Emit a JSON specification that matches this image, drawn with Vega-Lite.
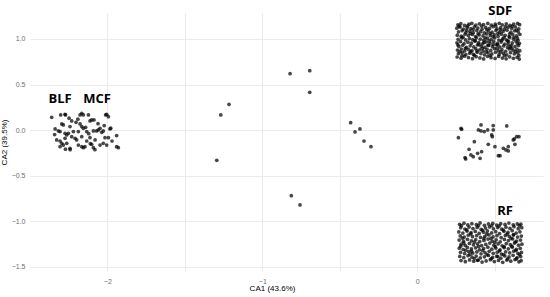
{
 "$schema": "https://vega.github.io/schema/vega-lite/v6.json",
 "width": 513, "height": 258,
 "autosize": {"type": "none"},
 "padding": {"left": 30, "top": 13, "right": 7, "bottom": 26},
 "background": "white",
 "config": {"view": {"stroke": null}, "font": "Liberation Sans"},
 "datasets": {
  "pts": [
   {"CA1":-0.821,"CA2":0.619},{"CA1":-0.694,"CA2":0.652},{"CA1":-0.694,"CA2":0.415},{"CA1":-1.215,"CA2":0.283},{"CA1":-1.268,"CA2":0.166},{"CA1":-1.294,"CA2":-0.332},{"CA1":-0.430,"CA2":0.081},{"CA1":-0.370,"CA2":0.012},{"CA1":-0.402,"CA2":-0.021},{"CA1":-0.344,"CA2":-0.120},{"CA1":-0.299,"CA2":-0.182},{"CA1":-0.813,"CA2":-0.720},{"CA1":-0.757,"CA2":-0.822},
   {"CA1":0.282,"CA2":0.019},{"CA1":0.286,"CA2":0.008},{"CA1":0.265,"CA2":-0.083},{"CA1":0.411,"CA2":0.056},{"CA1":0.394,"CA2":0.001},{"CA1":0.411,"CA2":-0.010},{"CA1":0.432,"CA2":-0.017},{"CA1":0.454,"CA2":0.001},{"CA1":0.490,"CA2":0.049},{"CA1":0.490,"CA2":0.001},{"CA1":0.480,"CA2":-0.054},{"CA1":0.484,"CA2":-0.072},{"CA1":0.577,"CA2":0.045},{"CA1":0.368,"CA2":-0.127},{"CA1":0.458,"CA2":-0.156},{"CA1":0.501,"CA2":-0.182},{"CA1":0.334,"CA2":-0.211},{"CA1":0.389,"CA2":-0.255},{"CA1":0.415,"CA2":-0.237},{"CA1":0.361,"CA2":-0.292},{"CA1":0.346,"CA2":-0.273},{"CA1":0.308,"CA2":-0.303},{"CA1":0.312,"CA2":-0.317},{"CA1":0.405,"CA2":-0.310},{"CA1":0.523,"CA2":-0.281},{"CA1":0.534,"CA2":-0.281},{"CA1":0.555,"CA2":-0.200},{"CA1":0.572,"CA2":-0.218},{"CA1":0.587,"CA2":-0.229},{"CA1":0.587,"CA2":-0.182},{"CA1":0.619,"CA2":-0.109},{"CA1":0.626,"CA2":-0.098},{"CA1":0.630,"CA2":-0.156},{"CA1":0.641,"CA2":-0.072},{"CA1":0.656,"CA2":-0.072},
   {"CA1":-2.359,"CA2":0.140},{"CA1":-2.301,"CA2":0.166},{"CA1":-2.273,"CA2":0.173},{"CA1":-2.165,"CA2":0.184},{"CA1":-2.155,"CA2":0.166},{"CA1":-2.122,"CA2":0.166},{"CA1":-2.004,"CA2":0.173},{"CA1":-1.993,"CA2":0.147},{"CA1":-2.230,"CA2":0.100},{"CA1":-2.202,"CA2":0.085},{"CA1":-2.176,"CA2":0.067},{"CA1":-2.112,"CA2":0.100},{"CA1":-2.101,"CA2":0.111},{"CA1":-2.086,"CA2":0.111},{"CA1":-2.294,"CA2":0.067},{"CA1":-2.284,"CA2":0.056},{"CA1":-2.241,"CA2":0.038},{"CA1":-2.165,"CA2":0.038},{"CA1":-2.155,"CA2":0.019},{"CA1":-2.047,"CA2":0.019},{"CA1":-1.983,"CA2":0.012},{"CA1":-2.337,"CA2":0.012},{"CA1":-2.316,"CA2":-0.010},{"CA1":-2.305,"CA2":-0.017},{"CA1":-2.273,"CA2":-0.035},{"CA1":-2.262,"CA2":-0.054},{"CA1":-2.251,"CA2":-0.035},{"CA1":-2.219,"CA2":-0.017},{"CA1":-2.187,"CA2":-0.017},{"CA1":-2.133,"CA2":-0.017},{"CA1":-2.090,"CA2":-0.010},{"CA1":-2.069,"CA2":-0.010},{"CA1":-2.058,"CA2":0.001},{"CA1":-2.036,"CA2":-0.025},{"CA1":-2.026,"CA2":-0.010},{"CA1":-1.940,"CA2":-0.061},{"CA1":-2.015,"CA2":-0.083},{"CA1":-1.993,"CA2":-0.083},{"CA1":-2.208,"CA2":-0.090},{"CA1":-2.198,"CA2":-0.109},{"CA1":-2.165,"CA2":-0.072},{"CA1":-2.112,"CA2":-0.083},{"CA1":-2.327,"CA2":-0.109},{"CA1":-2.305,"CA2":-0.120},{"CA1":-2.294,"CA2":-0.145},{"CA1":-2.284,"CA2":-0.164},{"CA1":-2.305,"CA2":-0.182},{"CA1":-2.262,"CA2":-0.145},{"CA1":-2.241,"CA2":-0.200},{"CA1":-2.187,"CA2":-0.164},{"CA1":-2.165,"CA2":-0.182},{"CA1":-2.144,"CA2":-0.182},{"CA1":-2.155,"CA2":-0.193},{"CA1":-2.101,"CA2":-0.156},{"CA1":-2.090,"CA2":-0.193},{"CA1":-2.047,"CA2":-0.164},{"CA1":-2.026,"CA2":-0.145},{"CA1":-2.004,"CA2":-0.164},{"CA1":-1.929,"CA2":-0.193},{"CA1":-2.230,"CA2":-0.072},{"CA1":-2.273,"CA2":-0.090},{"CA1":-2.133,"CA2":-0.120},{"CA1":-2.079,"CA2":-0.109},{"CA1":-2.240,"CA2":-0.215},{"CA1":-2.080,"CA2":-0.215},{"CA1":-2.270,"CA2":0.166},{"CA1":-2.176,"CA2":0.166},{"CA1":-2.011,"CA2":0.166},{"CA1":-1.978,"CA2":0.020},{"CA1":-1.940,"CA2":-0.182},{"CA1":-2.247,"CA2":0.130},{"CA1":-2.120,"CA2":-0.040},{"CA1":-2.060,"CA2":0.070},{"CA1":-2.190,"CA2":0.120},{"CA1":-2.340,"CA2":-0.050},{"CA1":-2.020,"CA2":0.050},{"CA1":-2.110,"CA2":-0.150},{"CA1":-1.970,"CA2":-0.120},{"CA1":-2.270,"CA2":-0.210},{"CA1":-2.140,"CA2":0.030},
   {"CA1":0.262,"CA2":1.155},{"CA1":0.281,"CA2":1.168},{"CA1":0.305,"CA2":1.149},{"CA1":0.333,"CA2":1.162},{"CA1":0.352,"CA2":1.171},{"CA1":0.378,"CA2":1.153},{"CA1":0.401,"CA2":1.166},{"CA1":0.427,"CA2":1.158},{"CA1":0.455,"CA2":1.170},{"CA1":0.478,"CA2":1.151},{"CA1":0.503,"CA2":1.163},{"CA1":0.529,"CA2":1.172},{"CA1":0.548,"CA2":1.156},{"CA1":0.574,"CA2":1.167},{"CA1":0.598,"CA2":1.150},{"CA1":0.622,"CA2":1.164},{"CA1":0.647,"CA2":1.170},{"CA1":0.660,"CA2":1.157},
   {"CA1":0.255,"CA2":1.118},{"CA1":0.276,"CA2":1.131},{"CA1":0.297,"CA2":1.109},{"CA1":0.322,"CA2":1.125},{"CA1":0.346,"CA2":1.114},{"CA1":0.369,"CA2":1.133},{"CA1":0.391,"CA2":1.120},{"CA1":0.418,"CA2":1.108},{"CA1":0.441,"CA2":1.127},{"CA1":0.466,"CA2":1.116},{"CA1":0.489,"CA2":1.135},{"CA1":0.514,"CA2":1.112},{"CA1":0.538,"CA2":1.124},{"CA1":0.561,"CA2":1.106},{"CA1":0.586,"CA2":1.129},{"CA1":0.609,"CA2":1.117},{"CA1":0.633,"CA2":1.132},{"CA1":0.655,"CA2":1.111},
   {"CA1":0.266,"CA2":1.078},{"CA1":0.289,"CA2":1.091},{"CA1":0.314,"CA2":1.072},{"CA1":0.339,"CA2":1.086},{"CA1":0.361,"CA2":1.069},{"CA1":0.384,"CA2":1.093},{"CA1":0.409,"CA2":1.080},{"CA1":0.432,"CA2":1.067},{"CA1":0.458,"CA2":1.088},{"CA1":0.482,"CA2":1.075},{"CA1":0.507,"CA2":1.094},{"CA1":0.531,"CA2":1.071},{"CA1":0.553,"CA2":1.083},{"CA1":0.579,"CA2":1.096},{"CA1":0.604,"CA2":1.074},{"CA1":0.628,"CA2":1.089},{"CA1":0.651,"CA2":1.077},
   {"CA1":0.258,"CA2":1.042},{"CA1":0.283,"CA2":1.031},{"CA1":0.308,"CA2":1.052},{"CA1":0.329,"CA2":1.038},{"CA1":0.355,"CA2":1.049},{"CA1":0.376,"CA2":1.027},{"CA1":0.399,"CA2":1.044},{"CA1":0.424,"CA2":1.033},{"CA1":0.447,"CA2":1.055},{"CA1":0.471,"CA2":1.036},{"CA1":0.496,"CA2":1.047},{"CA1":0.521,"CA2":1.029},{"CA1":0.543,"CA2":1.053},{"CA1":0.567,"CA2":1.040},{"CA1":0.592,"CA2":1.026},{"CA1":0.616,"CA2":1.048},{"CA1":0.641,"CA2":1.035},{"CA1":0.662,"CA2":1.051},
   {"CA1":0.263,"CA2":0.996},{"CA1":0.287,"CA2":1.011},{"CA1":0.311,"CA2":0.989},{"CA1":0.336,"CA2":1.004},{"CA1":0.358,"CA2":0.992},{"CA1":0.381,"CA2":1.013},{"CA1":0.406,"CA2":0.998},{"CA1":0.429,"CA2":0.986},{"CA1":0.452,"CA2":1.009},{"CA1":0.477,"CA2":0.994},{"CA1":0.500,"CA2":1.012},{"CA1":0.526,"CA2":0.988},{"CA1":0.551,"CA2":1.002},{"CA1":0.574,"CA2":0.991},{"CA1":0.597,"CA2":1.015},{"CA1":0.621,"CA2":0.997},{"CA1":0.646,"CA2":1.008},
   {"CA1":0.256,"CA2":0.958},{"CA1":0.279,"CA2":0.971},{"CA1":0.302,"CA2":0.949},{"CA1":0.327,"CA2":0.964},{"CA1":0.349,"CA2":0.953},{"CA1":0.373,"CA2":0.975},{"CA1":0.396,"CA2":0.961},{"CA1":0.421,"CA2":0.947},{"CA1":0.444,"CA2":0.968},{"CA1":0.469,"CA2":0.955},{"CA1":0.493,"CA2":0.973},{"CA1":0.517,"CA2":0.951},{"CA1":0.541,"CA2":0.966},{"CA1":0.564,"CA2":0.944},{"CA1":0.589,"CA2":0.970},{"CA1":0.613,"CA2":0.957},{"CA1":0.637,"CA2":0.976},{"CA1":0.659,"CA2":0.952},
   {"CA1":0.268,"CA2":0.918},{"CA1":0.292,"CA2":0.931},{"CA1":0.317,"CA2":0.909},{"CA1":0.341,"CA2":0.925},{"CA1":0.364,"CA2":0.913},{"CA1":0.388,"CA2":0.934},{"CA1":0.412,"CA2":0.920},{"CA1":0.436,"CA2":0.907},{"CA1":0.461,"CA2":0.929},{"CA1":0.485,"CA2":0.915},{"CA1":0.510,"CA2":0.936},{"CA1":0.533,"CA2":0.911},{"CA1":0.557,"CA2":0.923},{"CA1":0.582,"CA2":0.905},{"CA1":0.606,"CA2":0.930},{"CA1":0.630,"CA2":0.917},{"CA1":0.653,"CA2":0.927},
   {"CA1":0.259,"CA2":0.878},{"CA1":0.284,"CA2":0.889},{"CA1":0.306,"CA2":0.868},{"CA1":0.331,"CA2":0.884},{"CA1":0.353,"CA2":0.872},{"CA1":0.377,"CA2":0.893},{"CA1":0.403,"CA2":0.880},{"CA1":0.425,"CA2":0.866},{"CA1":0.450,"CA2":0.887},{"CA1":0.474,"CA2":0.874},{"CA1":0.498,"CA2":0.895},{"CA1":0.523,"CA2":0.870},{"CA1":0.546,"CA2":0.882},{"CA1":0.570,"CA2":0.864},{"CA1":0.594,"CA2":0.890},{"CA1":0.619,"CA2":0.876},{"CA1":0.643,"CA2":0.886},{"CA1":0.661,"CA2":0.871},
   {"CA1":0.265,"CA2":0.838},{"CA1":0.290,"CA2":0.851},{"CA1":0.313,"CA2":0.829},{"CA1":0.338,"CA2":0.844},{"CA1":0.362,"CA2":0.832},{"CA1":0.386,"CA2":0.853},{"CA1":0.410,"CA2":0.840},{"CA1":0.433,"CA2":0.826},{"CA1":0.457,"CA2":0.848},{"CA1":0.481,"CA2":0.835},{"CA1":0.505,"CA2":0.855},{"CA1":0.528,"CA2":0.830},{"CA1":0.555,"CA2":0.843},{"CA1":0.577,"CA2":0.825},{"CA1":0.601,"CA2":0.850},{"CA1":0.626,"CA2":0.837},{"CA1":0.649,"CA2":0.846},
   {"CA1":0.257,"CA2":0.802},{"CA1":0.282,"CA2":0.789},{"CA1":0.304,"CA2":0.811},{"CA1":0.330,"CA2":0.796},{"CA1":0.356,"CA2":0.784},{"CA1":0.380,"CA2":0.806},{"CA1":0.404,"CA2":0.792},{"CA1":0.428,"CA2":0.781},{"CA1":0.453,"CA2":0.809},{"CA1":0.476,"CA2":0.795},{"CA1":0.502,"CA2":0.786},{"CA1":0.525,"CA2":0.808},{"CA1":0.549,"CA2":0.791},{"CA1":0.573,"CA2":0.782},{"CA1":0.596,"CA2":0.804},{"CA1":0.620,"CA2":0.788},{"CA1":0.644,"CA2":0.799},{"CA1":0.658,"CA2":0.780},
   {"CA1":0.270,"CA2":1.140},{"CA1":0.318,"CA2":1.098},{"CA1":0.342,"CA2":1.061},{"CA1":0.295,"CA2":1.020},{"CA1":0.372,"CA2":0.982},{"CA1":0.415,"CA2":1.142},{"CA1":0.448,"CA2":1.102},{"CA1":0.392,"CA2":1.058},{"CA1":0.438,"CA2":1.012},{"CA1":0.463,"CA2":0.978},{"CA1":0.507,"CA2":1.143},{"CA1":0.535,"CA2":1.100},{"CA1":0.519,"CA2":1.058},{"CA1":0.560,"CA2":1.018},{"CA1":0.583,"CA2":0.978},{"CA1":0.612,"CA2":1.140},{"CA1":0.640,"CA2":1.098},{"CA1":0.595,"CA2":1.055},{"CA1":0.625,"CA2":1.018},{"CA1":0.650,"CA2":0.985},{"CA1":0.262,"CA2":0.935},{"CA1":0.310,"CA2":0.896},{"CA1":0.345,"CA2":0.860},{"CA1":0.288,"CA2":0.816},{"CA1":0.368,"CA2":0.820},{"CA1":0.398,"CA2":0.940},{"CA1":0.420,"CA2":0.898},{"CA1":0.445,"CA2":0.858},{"CA1":0.470,"CA2":0.818},{"CA1":0.490,"CA2":0.940},{"CA1":0.515,"CA2":0.896},{"CA1":0.538,"CA2":0.858},{"CA1":0.562,"CA2":0.818},{"CA1":0.585,"CA2":0.940},{"CA1":0.610,"CA2":0.898},{"CA1":0.635,"CA2":0.860},{"CA1":0.655,"CA2":0.818},{"CA1":0.325,"CA2":1.145},{"CA1":0.360,"CA2":1.105},{"CA1":0.470,"CA2":1.060},{"CA1":0.490,"CA2":1.025},{"CA1":0.545,"CA2":0.985},{"CA1":0.600,"CA2":0.912},{"CA1":0.275,"CA2":0.860},{"CA1":0.430,"CA2":0.962},{"CA1":0.520,"CA2":0.935},{"CA1":0.645,"CA2":0.948},{"CA1":0.385,"CA2":0.870},{"CA1":0.455,"CA2":0.930},{"CA1":0.568,"CA2":1.135},
   {"CA1":0.273,"CA2":-1.034},{"CA1":0.301,"CA2":-1.022},{"CA1":0.326,"CA2":-1.041},{"CA1":0.352,"CA2":-1.028},{"CA1":0.381,"CA2":-1.037},{"CA1":0.405,"CA2":-1.019},{"CA1":0.433,"CA2":-1.045},{"CA1":0.459,"CA2":-1.031},{"CA1":0.487,"CA2":-1.024},{"CA1":0.512,"CA2":-1.043},{"CA1":0.538,"CA2":-1.027},{"CA1":0.566,"CA2":-1.036},{"CA1":0.591,"CA2":-1.021},{"CA1":0.619,"CA2":-1.040},{"CA1":0.645,"CA2":-1.029},{"CA1":0.668,"CA2":-1.033},
   {"CA1":0.280,"CA2":-1.072},{"CA1":0.307,"CA2":-1.086},{"CA1":0.334,"CA2":-1.065},{"CA1":0.359,"CA2":-1.081},{"CA1":0.386,"CA2":-1.069},{"CA1":0.412,"CA2":-1.090},{"CA1":0.440,"CA2":-1.076},{"CA1":0.466,"CA2":-1.063},{"CA1":0.491,"CA2":-1.084},{"CA1":0.519,"CA2":-1.070},{"CA1":0.545,"CA2":-1.088},{"CA1":0.572,"CA2":-1.066},{"CA1":0.598,"CA2":-1.079},{"CA1":0.624,"CA2":-1.061},{"CA1":0.651,"CA2":-1.083},{"CA1":0.674,"CA2":-1.071},
   {"CA1":0.268,"CA2":-1.118},{"CA1":0.294,"CA2":-1.131},{"CA1":0.321,"CA2":-1.109},{"CA1":0.347,"CA2":-1.126},{"CA1":0.374,"CA2":-1.113},{"CA1":0.399,"CA2":-1.134},{"CA1":0.427,"CA2":-1.121},{"CA1":0.452,"CA2":-1.107},{"CA1":0.480,"CA2":-1.129},{"CA1":0.506,"CA2":-1.115},{"CA1":0.531,"CA2":-1.136},{"CA1":0.559,"CA2":-1.111},{"CA1":0.585,"CA2":-1.124},{"CA1":0.612,"CA2":-1.105},{"CA1":0.638,"CA2":-1.130},{"CA1":0.662,"CA2":-1.117},
   {"CA1":0.277,"CA2":-1.162},{"CA1":0.303,"CA2":-1.175},{"CA1":0.329,"CA2":-1.154},{"CA1":0.356,"CA2":-1.170},{"CA1":0.383,"CA2":-1.158},{"CA1":0.408,"CA2":-1.179},{"CA1":0.436,"CA2":-1.166},{"CA1":0.462,"CA2":-1.151},{"CA1":0.489,"CA2":-1.173},{"CA1":0.514,"CA2":-1.160},{"CA1":0.541,"CA2":-1.181},{"CA1":0.568,"CA2":-1.156},{"CA1":0.594,"CA2":-1.168},{"CA1":0.621,"CA2":-1.150},{"CA1":0.647,"CA2":-1.174},{"CA1":0.671,"CA2":-1.163},
   {"CA1":0.270,"CA2":-1.207},{"CA1":0.298,"CA2":-1.220},{"CA1":0.324,"CA2":-1.199},{"CA1":0.350,"CA2":-1.215},{"CA1":0.377,"CA2":-1.203},{"CA1":0.403,"CA2":-1.224},{"CA1":0.430,"CA2":-1.211},{"CA1":0.456,"CA2":-1.196},{"CA1":0.483,"CA2":-1.218},{"CA1":0.509,"CA2":-1.205},{"CA1":0.535,"CA2":-1.226},{"CA1":0.562,"CA2":-1.201},{"CA1":0.588,"CA2":-1.213},{"CA1":0.615,"CA2":-1.195},{"CA1":0.641,"CA2":-1.219},{"CA1":0.666,"CA2":-1.208},
   {"CA1":0.283,"CA2":-1.252},{"CA1":0.309,"CA2":-1.266},{"CA1":0.336,"CA2":-1.244},{"CA1":0.362,"CA2":-1.260},{"CA1":0.388,"CA2":-1.248},{"CA1":0.415,"CA2":-1.269},{"CA1":0.442,"CA2":-1.256},{"CA1":0.468,"CA2":-1.241},{"CA1":0.494,"CA2":-1.263},{"CA1":0.521,"CA2":-1.250},{"CA1":0.547,"CA2":-1.271},{"CA1":0.574,"CA2":-1.246},{"CA1":0.600,"CA2":-1.258},{"CA1":0.627,"CA2":-1.240},{"CA1":0.653,"CA2":-1.264},{"CA1":0.675,"CA2":-1.253},
   {"CA1":0.271,"CA2":-1.297},{"CA1":0.296,"CA2":-1.311},{"CA1":0.323,"CA2":-1.289},{"CA1":0.349,"CA2":-1.305},{"CA1":0.376,"CA2":-1.293},{"CA1":0.401,"CA2":-1.314},{"CA1":0.428,"CA2":-1.301},{"CA1":0.455,"CA2":-1.286},{"CA1":0.481,"CA2":-1.308},{"CA1":0.507,"CA2":-1.295},{"CA1":0.534,"CA2":-1.316},{"CA1":0.560,"CA2":-1.291},{"CA1":0.587,"CA2":-1.303},{"CA1":0.613,"CA2":-1.285},{"CA1":0.639,"CA2":-1.309},{"CA1":0.664,"CA2":-1.298},
   {"CA1":0.279,"CA2":-1.342},{"CA1":0.305,"CA2":-1.356},{"CA1":0.331,"CA2":-1.334},{"CA1":0.358,"CA2":-1.350},{"CA1":0.384,"CA2":-1.338},{"CA1":0.411,"CA2":-1.359},{"CA1":0.437,"CA2":-1.346},{"CA1":0.464,"CA2":-1.331},{"CA1":0.490,"CA2":-1.353},{"CA1":0.516,"CA2":-1.340},{"CA1":0.543,"CA2":-1.361},{"CA1":0.570,"CA2":-1.336},{"CA1":0.596,"CA2":-1.348},{"CA1":0.622,"CA2":-1.330},{"CA1":0.649,"CA2":-1.354},{"CA1":0.672,"CA2":-1.343},
   {"CA1":0.274,"CA2":-1.387},{"CA1":0.300,"CA2":-1.401},{"CA1":0.327,"CA2":-1.379},{"CA1":0.353,"CA2":-1.395},{"CA1":0.380,"CA2":-1.383},{"CA1":0.406,"CA2":-1.404},{"CA1":0.433,"CA2":-1.391},{"CA1":0.459,"CA2":-1.376},{"CA1":0.486,"CA2":-1.398},{"CA1":0.512,"CA2":-1.385},{"CA1":0.539,"CA2":-1.406},{"CA1":0.565,"CA2":-1.381},{"CA1":0.592,"CA2":-1.393},{"CA1":0.618,"CA2":-1.375},{"CA1":0.644,"CA2":-1.399},{"CA1":0.667,"CA2":-1.388},
   {"CA1":0.282,"CA2":-1.432},{"CA1":0.310,"CA2":-1.445},{"CA1":0.337,"CA2":-1.426},{"CA1":0.364,"CA2":-1.440},{"CA1":0.391,"CA2":-1.429},{"CA1":0.418,"CA2":-1.449},{"CA1":0.444,"CA2":-1.436},{"CA1":0.471,"CA2":-1.423},{"CA1":0.497,"CA2":-1.443},{"CA1":0.524,"CA2":-1.431},{"CA1":0.551,"CA2":-1.452},{"CA1":0.577,"CA2":-1.427},{"CA1":0.603,"CA2":-1.439},{"CA1":0.630,"CA2":-1.421},{"CA1":0.656,"CA2":-1.446},{"CA1":0.670,"CA2":-1.434},
   {"CA1":0.285,"CA2":-1.050},{"CA1":0.318,"CA2":-1.095},{"CA1":0.345,"CA2":-1.140},{"CA1":0.290,"CA2":-1.185},{"CA1":0.368,"CA2":-1.230},{"CA1":0.395,"CA2":-1.050},{"CA1":0.420,"CA2":-1.100},{"CA1":0.448,"CA2":-1.140},{"CA1":0.475,"CA2":-1.190},{"CA1":0.500,"CA2":-1.232},{"CA1":0.528,"CA2":-1.052},{"CA1":0.555,"CA2":-1.098},{"CA1":0.580,"CA2":-1.142},{"CA1":0.605,"CA2":-1.188},{"CA1":0.632,"CA2":-1.230},{"CA1":0.658,"CA2":-1.048},{"CA1":0.280,"CA2":-1.275},{"CA1":0.312,"CA2":-1.320},{"CA1":0.340,"CA2":-1.365},{"CA1":0.368,"CA2":-1.410},{"CA1":0.395,"CA2":-1.278},{"CA1":0.422,"CA2":-1.322},{"CA1":0.450,"CA2":-1.368},{"CA1":0.478,"CA2":-1.412},{"CA1":0.503,"CA2":-1.280},{"CA1":0.530,"CA2":-1.325},{"CA1":0.556,"CA2":-1.368},{"CA1":0.583,"CA2":-1.415},{"CA1":0.610,"CA2":-1.275},{"CA1":0.636,"CA2":-1.322},{"CA1":0.660,"CA2":-1.366},{"CA1":0.640,"CA2":-1.415},{"CA1":0.300,"CA2":-1.240},{"CA1":0.430,"CA2":-1.190},{"CA1":0.560,"CA2":-1.280},{"CA1":0.480,"CA2":-1.050},{"CA1":0.350,"CA2":-1.330},{"CA1":0.620,"CA2":-1.150},{"CA1":0.520,"CA2":-1.390},{"CA1":0.390,"CA2":-1.430}
  ],
  "labs": [
   {"CA1":-2.305,"CA2":0.338,"label":"BLF"},
   {"CA1":-2.066,"CA2":0.338,"label":"MCF"},
   {"CA1":0.535,"CA2":1.31,"label":"SDF"},
   {"CA1":0.566,"CA2":-0.883,"label":"RF"}
  ]
 },
 "layer": [
  {
   "data": {"name": "pts"},
   "mark": {"type": "circle", "size": 14, "color": "#000000", "opacity": 0.72},
   "encoding": {
    "x": {"field": "CA1", "type": "quantitative",
     "scale": {"domain": [-2.499, 0.811], "nice": false, "zero": false},
     "axis": {"title": "CA1 (43.6%)", "values": [-2.5, -2, -1.5, -1, -0.5, 0, 0.5],
      "format": ".0f",
      "labelExpr": "datum.value % 1 == 0 ? datum.label : ''",
      "ticks": false, "domain": false, "gridColor": "#ebebeb", "gridWidth": 1,
      "labelColor": "#6e6e6e", "labelFontSize": 7, "labelPadding": 6, "labelFlush": false, "labelOverlap": false,
      "titleFontSize": 8, "titleFontWeight": "normal", "titleColor": "#000000", "titlePadding": 0, "titleX": 242}},
    "y": {"field": "CA2", "type": "quantitative",
     "scale": {"domain": [-1.547, 1.285], "nice": false, "zero": false},
     "axis": {"title": "CA2 (39.5%)", "values": [-1.5, -1.25, -1, -0.75, -0.5, -0.25, 0, 0.25, 0.5, 0.75, 1, 1.25],
      "format": ".1f",
      "labelExpr": "abs(datum.value * 2 - round(datum.value * 2)) < 0.001 ? datum.label : ''",
      "ticks": false, "domain": false, "gridColor": "#ebebeb", "gridWidth": 1,
      "labelColor": "#6e6e6e", "labelFontSize": 7, "labelPadding": 5, "labelFlush": false, "labelOverlap": false,
      "titleFontSize": 8, "titleFontWeight": "normal", "titleColor": "#000000", "titlePadding": 3}}
   }
  },
  {
   "data": {"name": "labs"},
   "mark": {"type": "text", "font": "Open Sans", "fontWeight": "bold", "fontSize": 13, "color": "#000000", "baseline": "middle", "align": "center"},
   "encoding": {
    "x": {"field": "CA1", "type": "quantitative"},
    "y": {"field": "CA2", "type": "quantitative"},
    "text": {"field": "label"}
   }
  }
 ]
}
